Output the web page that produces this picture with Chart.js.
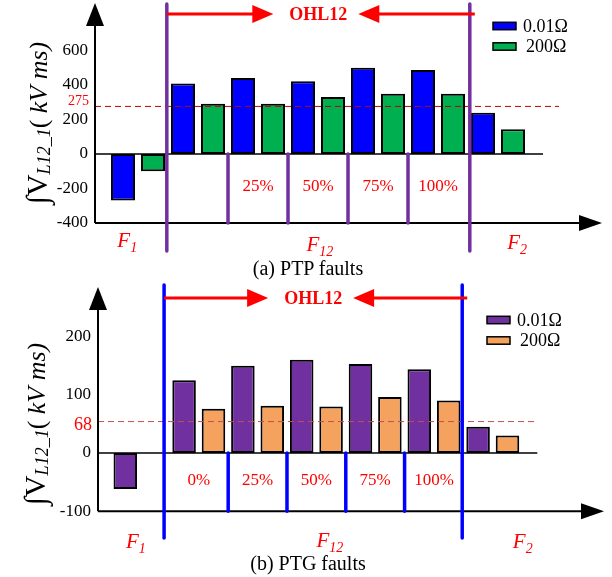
<!DOCTYPE html>
<html lang="en">
<head>
<meta charset="UTF-8">
<title>PTP / PTG faults</title>
<script src="https://cdn.jsdelivr.net/npm/chart.js@4"></script>
<style>
    * { margin: 0; padding: 0; box-sizing: border-box; }
    body {
        width: 612px;
        height: 577px;
        background: #fff;
        position: relative;
        overflow: hidden;
        font-family: 'Liberation Serif', 'Times New Roman', serif;
    }
    canvas { position: absolute; left: 0; }
    #chartA { top: 0; }
    #chartB { top: 280px; }
    .caption {
        position: absolute;
        left: 208px;
        width: 200px;
        text-align: center;
        font-size: 20px;
        line-height: 20px;
        color: #000;
    }
</style>
</head>
<body>
<canvas id="chartA" width="612" height="280"></canvas>
<canvas id="chartB" width="612" height="297"></canvas>
<div class="caption" style="top:258px">(a) PTP faults</div>
<div class="caption" style="top:553px">(b) PTG faults</div>

<script>
// fault locations (one group of two bars each)
const groups = ['F1', '0%', '25%', '50%', '75%', '100%', 'F2'];
const seriesNames = ['0.01Ω', '200Ω'];

// (a) PTP faults
const ptpLow  = [-270, 408, 440, 421, 499, 486, 239];
const ptpHigh = [-100, 290, 290, 329, 349, 349, 143];
const ptpTicks = [-400, -200, 0, 200, 400, 600];
const ptpThreshold = 275;

// (b) PTG faults
const ptgLow  = [-62, 125, 150, 160, 153, 144, 45];
const ptgHigh = [null, 76, 81, 80, 96, 90, 30];
const ptgTicks = [-100, 0, 100, 200];
const ptgThreshold = 54;      // level where the dashed line sits
const ptgThresholdText = '68';

const serif = "'Liberation Serif', 'Times New Roman', serif";

function seg(ctx, x1, y1, x2, y2) {
    ctx.beginPath();
    ctx.moveTo(x1, y1);
    ctx.lineTo(x2, y2);
    ctx.stroke();
}

function tri(ctx, p) {
    ctx.beginPath();
    ctx.moveTo(p[0][0], p[0][1]);
    ctx.lineTo(p[1][0], p[1][1]);
    ctx.lineTo(p[2][0], p[2][1]);
    ctx.closePath();
    ctx.fill();
}

function subLabel(ctx, cx, cy, main, sub, size) {
    ctx.font = `italic ${size}px ${serif}`;
    const w1 = ctx.measureText(main).width;
    ctx.font = `italic ${Math.round(size * 0.65)}px ${serif}`;
    const w2 = ctx.measureText(sub).width;
    const sx = cx - (w1 + w2) / 2;
    ctx.textAlign = 'left';
    ctx.textBaseline = 'alphabetic';
    ctx.font = `italic ${size}px ${serif}`;
    ctx.fillText(main, sx, cy + size * 0.35);
    ctx.font = `italic ${Math.round(size * 0.65)}px ${serif}`;
    ctx.fillText(sub, sx + w1, cy + size * 0.55);
}

function yTitle(ctx, bx, cy) {
    const parts = [
        { t: '∫', f: `30px ${serif}`, dy: 0 },
        { t: 'V', f: `30px ${serif}`, dy: 0 },
        { t: 'L12_1', f: `italic 18px ${serif}`, dy: 3 },
        { t: '( ', f: `26px ${serif}`, dy: 0 },
        { t: 'kV ms)', f: `italic 26px ${serif}`, dy: 0 }
    ];
    ctx.save();
    ctx.translate(bx, cy);
    ctx.rotate(-Math.PI / 2);
    let total = 0;
    parts.forEach(p => { ctx.font = p.f; p.w = ctx.measureText(p.t).width; total += p.w; });
    let px = -total / 2;
    ctx.fillStyle = '#000';
    ctx.textAlign = 'left';
    ctx.textBaseline = 'alphabetic';
    parts.forEach(p => { ctx.font = p.f; ctx.fillText(p.t, px, p.dy); px += p.w; });
    ctx.restore();
}

function makeDecor(c) {
    return {
        id: 'decor',
        beforeDatasetsDraw(chart) {
            const { ctx, chartArea: a, scales: { y } } = chart;
            const y0 = y.getPixelForValue(0);
            ctx.save();
            ctx.strokeStyle = '#000';
            ctx.lineWidth = 1.5;
            seg(ctx, a.left, y0, a.right, y0);
            ctx.restore();
        },
        afterDatasetsDraw(chart) {
            const { ctx, chartArea: a, scales: { x, y } } = chart;
            const y0 = y.getPixelForValue(0);
            ctx.save();

            // threshold
            const yt = y.getPixelForValue(c.threshold);
            ctx.strokeStyle = c.dashColor;
            ctx.lineWidth = 1;
            ctx.setLineDash([6, 4]);
            seg(ctx, a.left, yt, c.dashEnd, yt);
            ctx.setLineDash([]);
            ctx.fillStyle = '#ff0000';
            ctx.font = `${c.thSize}px ${serif}`;
            ctx.textAlign = 'right';
            ctx.textBaseline = 'middle';
            ctx.fillText(c.thText, a.left - 6, yt + c.thDy);

            // axes with arrows
            ctx.strokeStyle = '#000';
            ctx.fillStyle = '#000';
            ctx.lineWidth = 2;
            seg(ctx, a.left, c.yTip + 20, a.left, a.bottom);
            tri(ctx, [[a.left, c.yTip], [a.left - 9, c.yTip + 23], [a.left + 9, c.yTip + 23]]);
            seg(ctx, a.left, a.bottom, c.xTip - 20, a.bottom);
            tri(ctx, [[c.xTip, a.bottom], [c.xTip - 23, a.bottom - 8], [c.xTip - 23, a.bottom + 8]]);

            // separators
            ctx.strokeStyle = c.sepColor;
            ctx.lineWidth = 3.5;
            ctx.lineCap = 'round';
            c.bigAt.forEach(v => {
                const px = x.getPixelForValue(v);
                seg(ctx, px, c.bigTop, px, c.bigBottom);
            });
            c.smallAt.forEach(v => {
                const px = x.getPixelForValue(v);
                seg(ctx, px, y0, px, a.bottom);
            });
            ctx.lineCap = 'butt';

            // OHL12 arrows
            const l = x.getPixelForValue(c.bigAt[0]);
            const r = x.getPixelForValue(c.bigAt[1]);
            const mid = (l + r) / 2;
            const oy = c.ohlY;
            ctx.strokeStyle = '#ff0000';
            ctx.fillStyle = '#ff0000';
            ctx.lineWidth = 3;
            seg(ctx, l, oy, mid - 60, oy);
            tri(ctx, [[mid - 45, oy], [mid - 66, oy - 9], [mid - 66, oy + 9]]);
            seg(ctx, mid + 56, oy, r + 5, oy);
            tri(ctx, [[mid + 40, oy], [mid + 61, oy - 9], [mid + 61, oy + 9]]);
            ctx.font = `bold 18px ${serif}`;
            ctx.textAlign = 'center';
            ctx.textBaseline = 'middle';
            ctx.fillText('OHL12', mid, oy + 1);

            // percent labels
            ctx.font = `17px ${serif}`;
            for (let i = c.pctFrom; i <= 5; i++) {
                ctx.fillText(groups[i], x.getPixelForValue(i), c.pctY);
            }

            // fault zone labels
            c.fLabels.forEach(f => subLabel(ctx, x.getPixelForValue(f.v), f.y, 'F', f.sub, 21));

            // legend
            chart.data.datasets.forEach((ds, i) => {
                const ly = c.legY + i * 20.5;
                ctx.fillStyle = ds.backgroundColor;
                ctx.fillRect(c.legX, ly - 3.7, 23, 7.4);
                ctx.strokeStyle = '#000';
                ctx.lineWidth = 1.5;
                ctx.strokeRect(c.legX, ly - 3.7, 23, 7.4);
                ctx.fillStyle = '#000';
                ctx.font = `18px ${serif}`;
                ctx.textAlign = 'left';
                ctx.textBaseline = 'middle';
                ctx.fillText(ds.label, c.legX + 30 + i * 3, ly + 1);
            });

            yTitle(ctx, c.titleX, c.titleY);
            ctx.restore();
        }
    };
}

function barSet(label, values, color) {
    return {
        label: label,
        data: values.map((v, i) => ({ x: i, y: v })),
        backgroundColor: color,
        borderColor: '#000',
        borderWidth: 2,
        borderSkipped: false,
        categoryPercentage: 1,
        barPercentage: 0.8
    };
}

function buildChart(id, datasets, s, decor) {
    return new Chart(document.getElementById(id), {
        type: 'bar',
        data: { datasets: datasets },
        options: {
            responsive: false,
            animation: false,
            devicePixelRatio: 1,
            layout: { padding: s.padding },
            plugins: { legend: { display: false }, tooltip: { enabled: false } },
            scales: {
                x: {
                    type: 'linear',
                    display: false,
                    offset: false,
                    min: s.xMin,
                    max: s.xMax,
                    // one tick per group so the bar width follows the group spacing
                    afterBuildTicks: scale => { scale.ticks = groups.map((g, i) => ({ value: i })); }
                },
                y: {
                    min: s.yMin,
                    max: s.yMax,
                    grid: { display: false, drawTicks: false },
                    border: { display: false },
                    ticks: { color: '#000', padding: 7, font: { family: serif, size: 17 } },
                    afterBuildTicks: scale => { scale.ticks = s.ticks.map(v => ({ value: v })); },
                    afterFit: scale => { scale.width = s.axisX; }
                }
            }
        },
        plugins: [makeDecor(decor)]
    });
}

buildChart('chartA',
    [barSet(seriesNames[0], ptpLow, '#0000ff'), barSet(seriesNames[1], ptpHigh, '#00b050')],
    { padding: { top: 33, bottom: 57, left: 0, right: 69 }, xMin: -0.717, xMax: 6.75,
      yMin: -400, yMax: 700, ticks: ptpTicks, axisX: 95 },
    { threshold: ptpThreshold, thText: String(ptpThreshold), thSize: 14, thDy: -5,
      dashColor: '#c00000', dashEnd: 559, yTip: 3, xTip: 602,
      sepColor: '#7030a0', bigAt: [0.48, 5.53], smallAt: [1.5, 2.5, 3.5, 4.5], bigTop: 4, bigBottom: 251,
      ohlY: 14, pctFrom: 2, pctY: 187,
      fLabels: [{ v: -0.18, y: 240, sub: '1' }, { v: 3.03, y: 244, sub: '12' }, { v: 6.32, y: 242, sub: '2' }],
      legX: 493, legY: 26, titleX: 47, titleY: 123 });

buildChart('chartB',
    [barSet(seriesNames[0], ptgLow, '#7030a0'), barSet(seriesNames[1], ptgHigh, '#f4a25e')],
    { padding: { top: 33.3, bottom: 65.8, left: 0, right: 74.7 }, xMin: -0.714, xMax: 6.757,
      yMin: -100, yMax: 240, ticks: ptgTicks, axisX: 98 },
    { threshold: ptgThreshold, thText: ptgThresholdText, thSize: 18, thDy: 4,
      dashColor: '#c0504d', dashEnd: 537, yTip: 7, xTip: 604,
      sepColor: '#0000ff', bigAt: [0.41, 5.48], smallAt: [1.5, 2.5, 3.5, 4.5], bigTop: 5, bigBottom: 258,
      ohlY: 18, pctFrom: 1, pctY: 201,
      fLabels: [{ v: -0.07, y: 261, sub: '1' }, { v: 3.23, y: 260, sub: '12' }, { v: 6.51, y: 261, sub: '2' }],
      legX: 487, legY: 40, titleX: 45, titleY: 144 });
</script>
</body>
</html>
